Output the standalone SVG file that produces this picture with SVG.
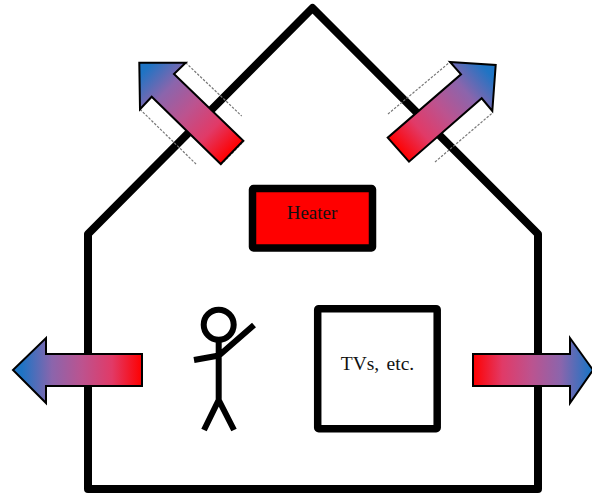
<svg xmlns="http://www.w3.org/2000/svg" width="592" height="493" viewBox="0 0 592 493">
<style>
.wall{fill:none;stroke:#000;stroke-width:7.500;stroke-linejoin:round}
.limb{fill:none;stroke:#000;stroke-width:6}
.arrow{stroke:#000;stroke-width:2;stroke-linejoin:miter}
.dash{fill:none;stroke:#777;stroke-width:1.200;stroke-dasharray:2.500 1.500}
.s0{stop-color:#ff0000}.s1{stop-color:#e13a67}.s2{stop-color:#bc538f}.s3{stop-color:#8b65ac}.s4{stop-color:#1f74c4}
text{font-family:"Liberation Serif","Times New Roman",serif;fill:#111;text-anchor:middle}
</style>
<defs>
<linearGradient id="g"><stop offset="0" class="s0"/><stop offset=".25" class="s1"/><stop offset=".5" class="s2"/><stop offset=".75" class="s3"/><stop offset="1" class="s4"/></linearGradient>
<linearGradient id="gl" href="#g" gradientUnits="userSpaceOnUse" x1="142" y1="370" x2="22" y2="370"/>
<linearGradient id="gr" href="#g" gradientUnits="userSpaceOnUse" x1="473" y1="370" x2="590" y2="370"/>
<linearGradient id="gtl" href="#g" gradientUnits="userSpaceOnUse" x1="232" y1="152" x2="146" y2="69"/>
<linearGradient id="gtr" href="#g" gradientUnits="userSpaceOnUse" x1="398" y1="150" x2="488" y2="72"/>
</defs>
<g id="house"><path class="wall" style="stroke-width:8" d="M312.500 8 L88 234 V489 H538 V234 Z"/></g>
<g id="heater"><rect class="wall" x="252.500" y="188.500" width="120" height="59.500" rx="1" style="fill:#f00"/><text x="312" y="219" font-size="19">Heater</text></g>
<g id="tvs"><rect class="wall" x="317.700" y="308.700" width="119.500" height="120" rx="1" style="fill:#fff"/><text x="377.500" y="369.500" font-size="19.500" word-spacing="2.500">TVs, etc.</text></g>
<g id="person">
<circle class="limb" cx="218.700" cy="324.700" r="15"/>
<path class="limb" d="M218.700 340 V400 M218.700 400 L204 430 M218.700 400 L234 430 M194 360 L219 355.500 M219 355.500 L254 325"/>
</g>
<g id="connectors">
<path class="dash" d="M185.700 62.700 L241.700 116 M140 109.300 L196 164 M220.700 165 L244 141"/>
<path class="dash" d="M388 114 L450 62 M435 162 L492.300 113"/>
<polygon class="arrow" fill="url(#gl)" points="142,354 46,354 46,338 13,370 46,403 46,386 142,386"/>
<polygon class="arrow" fill="url(#gr)" points="473,354 570,354 570,338 593,370 570,403 570,386 473,386"/>
<polygon class="arrow" fill="url(#gtl)" points="139.300,62.700 185.700,62.700 174,74 243.300,140.700 220.700,164 151.700,96.700 140,109.300"/>
<polygon class="arrow" fill="url(#gtr)" points="450,62 495.700,65 492.300,111 481.700,98.300 409,161.700 387.700,137.700 461,74.300"/>
</g>
</svg>
